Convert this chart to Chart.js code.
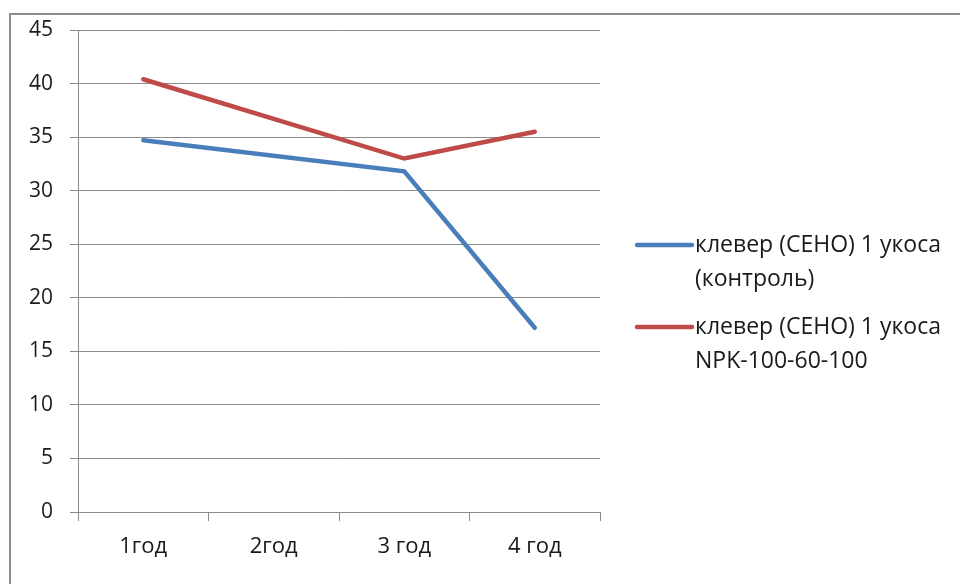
<!DOCTYPE html>
<html>
<head>
<meta charset="utf-8">
<script src="https://cdn.jsdelivr.net/npm/chart.js@4/dist/chart.umd.min.js"></script>
<style>
  html, body { margin: 0; padding: 0; background: #ffffff; overflow: hidden; }
  #wrap { position: relative; width: 960px; height: 584px; }
  #frame { position: absolute; left: 9px; top: 13px; width: 1000px; height: 700px;
           border: 2px solid #8e8e8e; box-sizing: border-box; }
  canvas { position: absolute; left: 0; top: 0; }
</style>
</head>
<body>
<div id="wrap">
  <div id="frame"></div>
  <canvas id="c" width="960" height="584"></canvas>
</div>
<script>
const categories = ["1год", "2год", "3 год", "4 год"];
const controlValues = [34.7, null, 31.8, 17.2];
const npkValues = [40.4, null, 33.0, 35.5];
const seriesLabels = [
  ["клевер (СЕНО) 1 укоса", "(контроль)"],
  ["клевер (СЕНО) 1 укоса", "NPK-100-60-100"]
];
const seriesColors = ["#4a7ebb", "#be4b48"];
const yTicks = [0, 5, 10, 15, 20, 25, 30, 35, 40, 45];

const FONT = "'Open Sans', sans-serif";
const TEXT = "#1a1a1a";
const GRID = "#8a8a8a";

const legendPlugin = {
  id: 'customLegend',
  afterDraw(chart) {
    const ctx = chart.ctx;
    ctx.save();
    const x0 = 637, x1 = 692, tx = 695;
    const yStart = 245, groupGap = 82, lineGap = 34;
    chart.data.datasets.forEach((ds, i) => {
      const y = yStart + i * groupGap;
      ctx.strokeStyle = ds.borderColor;
      ctx.lineWidth = 4.5;
      ctx.lineCap = 'round';
      ctx.beginPath();
      ctx.moveTo(x0, y);
      ctx.lineTo(x1, y);
      ctx.stroke();
      ctx.fillStyle = TEXT;
      ctx.font = "23px " + FONT;
      ctx.textBaseline = 'middle';
      ctx.textAlign = 'left';
      seriesLabels[i].forEach((t, j) => ctx.fillText(t, tx, y + j * lineGap));
    });
    ctx.restore();
  }
};

new Chart(document.getElementById('c'), {
  type: 'line',
  data: {
    labels: categories,
    datasets: [
      { label: seriesLabels[0].join(' '), data: controlValues, borderColor: seriesColors[0],
        backgroundColor: seriesColors[0], borderWidth: 4.5, pointRadius: 0, spanGaps: true,
        tension: 0, borderCapStyle: 'round' },
      { label: seriesLabels[1].join(' '), data: npkValues, borderColor: seriesColors[1],
        backgroundColor: seriesColors[1], borderWidth: 4.5, pointRadius: 0, spanGaps: true,
        tension: 0, borderCapStyle: 'round' }
    ]
  },
  options: {
    responsive: false,
    animation: false,
    devicePixelRatio: 1,
    layout: { padding: { top: 30, right: 360, left: 0, bottom: 0 } },
    plugins: { legend: { display: false }, tooltip: { enabled: false } },
    scales: {
      x: {
        type: 'category',
        offset: true,
        grid: { offset: true, drawOnChartArea: false, color: GRID, tickLength: 9, lineWidth: 1 },
        border: { display: true, color: GRID, width: 1 },
        ticks: { font: { family: FONT, size: 22 }, color: TEXT, padding: 13, maxRotation: 0 },
        afterFit(scale) { scale.height = 72; }
      },
      y: {
        min: 0, max: 45,
        afterBuildTicks(scale) { scale.ticks = yTicks.map(v => ({ value: v })); },
        grid: { color: GRID, tickLength: 8, lineWidth: 1 },
        border: { display: true, color: GRID, width: 1 },
        ticks: { font: { family: FONT, size: 21 }, color: TEXT, padding: 17 },
        afterFit(scale) { scale.width = 78; }
      }
    }
  },
  plugins: [legendPlugin]
});
</script>
</body>
</html>
